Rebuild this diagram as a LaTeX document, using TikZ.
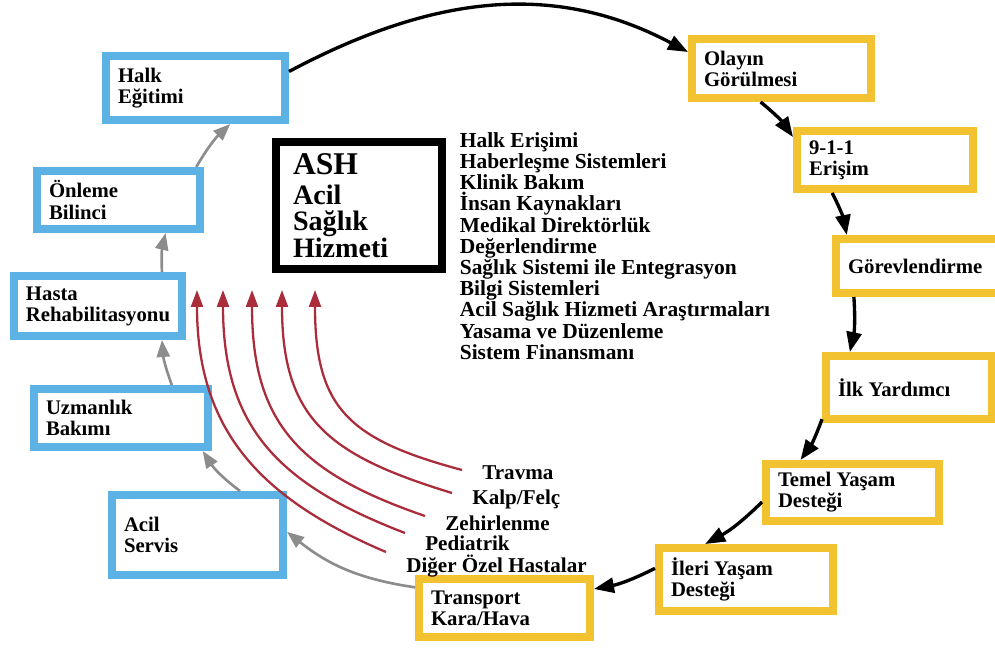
\documentclass[tikz,border=0pt]{standalone}
\usepackage{fontspec}
\setmainfont{Liberation Serif}
\usetikzlibrary{arrows.meta}
\definecolor{kutumavi}{RGB}{92,178,228}
\definecolor{kutusari}{RGB}{242,194,48}
\definecolor{okkirmizi}{RGB}{170,45,60}
\definecolor{okgri}{RGB}{140,140,140}

\begin{document}
\begin{tikzpicture}[
    bluebox/.style={draw=kutumavi, line width=0.16cm, align=flush left, inner xsep=0.24cm, font=\fontsize{11.8}{12}\selectfont\bfseries},
    yellowbox/.style={bluebox, draw=kutusari},
    ashbox/.style={draw=black, line width=0.16cm, align=flush left, inner xsep=0.34cm, font=\fontsize{16}{15}\selectfont\bfseries},
    liste/.style={inner sep=0pt, align=flush left, font=\fontsize{12.2}{12.06}\selectfont\bfseries},
    hastalik/.style={anchor=west, inner xsep=0.4cm, inner ysep=0pt, font=\fontsize{12}{12}\selectfont\bfseries},
    blackarrow/.style={line width=1.9pt, -{Triangle[length=0.4cm,width=0.3cm]}},
    grayarrow/.style={draw=okgri, line width=1.5pt, -{Triangle[length=0.34cm,width=0.26cm]}},
    redarc/.style={draw=okkirmizi, line width=1.3pt, -{Triangle[length=0.34cm,width=0.24cm]}}
    ]
    \useasboundingbox (0,0) rectangle (19.9,12.96);
    \clip (0,0) rectangle (19.9,12.96);

    \node[bluebox, text width=3.10cm, minimum height=1.28cm] (halk) at (3.91,11.20) {Halk\\Eğitimi};
    \node[bluebox, text width=2.78cm, minimum height=1.16cm] (onleme) at (2.37,8.96) {Önleme\\Bilinci};
    \node[bluebox, text width=2.88cm, minimum height=1.20cm] (hasta) at (1.96,6.84) {Hasta\\Rehabilitasyonu};
    \node[bluebox, text width=3.00cm, minimum height=1.16cm] (uzman) at (2.42,4.60) {Uzmanlık\\Bakımı};
    \node[bluebox, text width=2.94cm, minimum height=1.60cm] (acil) at (3.95,2.26) {Acil\\Servis};

    \node[yellowbox, text width=3.10cm, minimum height=1.18cm] (olay) at (15.63,11.59) {Olayın\\Görülmesi};
    \node[yellowbox, text width=3.04cm, minimum height=1.16cm] (dokuz) at (17.70,9.76) {9-1-1\\Erişim};
    \node[yellowbox, text width=3.02cm, minimum height=1.08cm] (gorev) at (18.47,7.64) {Görevlendirme};
    \node[yellowbox, text width=2.84cm, minimum height=1.26cm] (ilk) at (18.18,5.21) {İlk Yardımcı};
    \node[yellowbox, text width=2.98cm, minimum height=1.14cm] (temel) at (17.05,3.11) {Temel Yaşam\\Desteği};
    \node[yellowbox, text width=3.00cm, minimum height=1.26cm] (ileri) at (14.92,1.37) {İleri Yaşam\\Desteği};
    \node[yellowbox, text width=2.94cm, minimum height=1.16cm] (transport) at (10.09,0.80) {Transport\\Kara/Hava};

    \node[ashbox, text width=2.64cm, minimum height=2.54cm] (ash) at (7.18,8.85) {{\fontsize{18}{17}\selectfont ASH}\\[2pt]Acil\\Sağlık\\Hizmeti};

    \node[liste, anchor=west] (alanlar) at (9.19,8.04) {Halk Erişimi\\Haberleşme Sistemleri\\Klinik Bakım\\İnsan Kaynakları\\Medikal Direktörlük\\Değerlendirme\\Sağlık Sistemi ile Entegrasyon\\Bilgi Sistemleri\\Acil Sağlık Hizmeti Araştırmaları\\Yasama ve Düzenleme\\Sistem Finansmanı};

    \node[hastalik] (travma) at (9.24,3.50) {Travma};
    \node[hastalik] (kalp) at (9.04,2.98) {Kalp/Felç};
    \node[hastalik] (zehir) at (8.50,2.50) {Zehirlenme};
    \node[hastalik] (pediatrik) at (8.10,2.10) {Pediatrik};
    \node[hastalik] (diger) at (7.72,1.64) {Diğer Özel Hastalar};

    \coordinate (u1) at (3.94,7.16);
    \coordinate (u2) at (4.46,7.16);
    \coordinate (u3) at (5.04,7.16);
    \coordinate (u4) at (5.64,7.16);
    \coordinate (u5) at (6.30,7.16);

    \draw[redarc] ([yshift=0.28cm]diger.west) to[out=157,in=-90,looseness=1.1] (u1);
    \draw[redarc] ([yshift=0.20cm]pediatrik.west) to[out=159,in=-90,looseness=1.15] (u2);
    \draw[redarc] ([yshift=0.14cm]zehir.west) to[out=161,in=-90,looseness=1.2] (u3);
    \draw[redarc] ([yshift=0.12cm]kalp.west) to[out=163,in=-90,looseness=1.25] (u4);
    \draw[redarc] ([yshift=0.06cm]travma.west) to[out=165,in=-90,looseness=1.3] (u5);

    \draw[blackarrow] (halk.10) to[out=28,in=152] (olay.170);
    \draw[blackarrow] (olay.-122) to[bend left=8] (dokuz.166);
    \draw[blackarrow] (dokuz.-148) to[bend left=8] (gorev.158);
    \draw[blackarrow] (gorev.-156) to[bend left=8] (ilk.149);
    \draw[blackarrow] (ilk.-160) to[bend left=8] (temel.148);
    \draw[blackarrow] (temel.-174) to[bend left=8] (ileri.139);
    \draw[blackarrow] (ileri.173) to[bend left=8] (transport.12);

    \draw[grayarrow] (transport.167) to[bend left=15] (acil.2);
    \draw[grayarrow] (acil.46) to[bend left=10] (uzman.-22);
    \draw[grayarrow] (uzman.33) to[bend left=8] (hasta.-28);
    \draw[grayarrow] (hasta.28) to[bend left=8] (onleme.-35);
    \draw[grayarrow] (onleme.23) to[bend left=8] (halk.-46);

\end{tikzpicture}
\end{document}
